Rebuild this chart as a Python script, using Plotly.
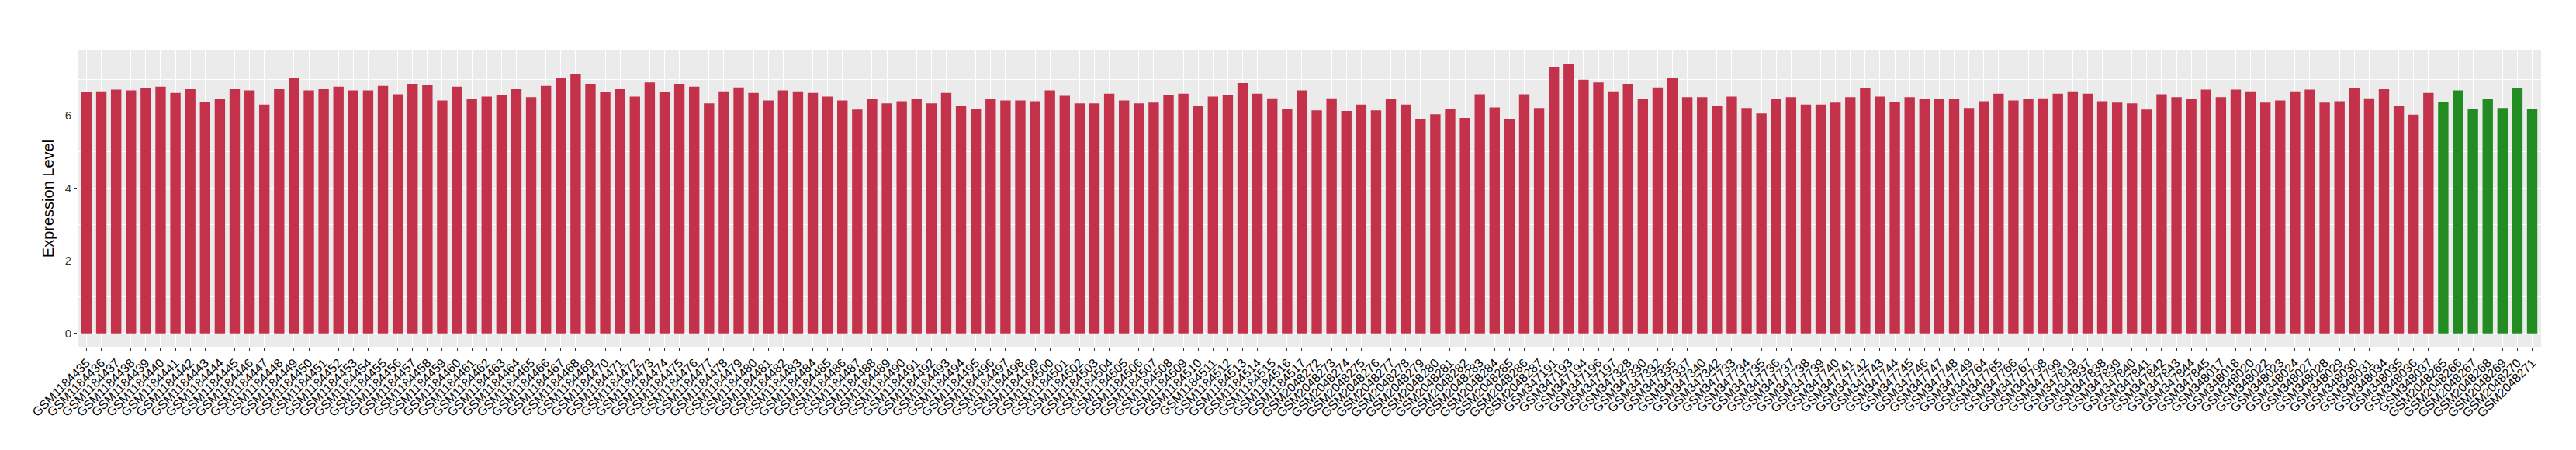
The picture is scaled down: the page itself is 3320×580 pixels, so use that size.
import plotly.graph_objects as go

samples = (
    [f"GSM{n}" for n in range(1184435, 1184518)]
    + [f"GSM{n}" for n in range(2048272, 2048288)]
    + ["GSM347191", "GSM347193", "GSM347194", "GSM347196", "GSM347197",
       "GSM347328", "GSM347330", "GSM347332", "GSM347335", "GSM347337",
       "GSM347340", "GSM347342"]
    + [f"GSM{n}" for n in range(347733, 347750)]
    + ["GSM347764", "GSM347765", "GSM347766", "GSM347767", "GSM347798",
       "GSM347799", "GSM347819"]
    + [f"GSM{n}" for n in range(347837, 347846)]
    + ["GSM348017", "GSM348018", "GSM348020", "GSM348022", "GSM348023",
       "GSM348024", "GSM348027", "GSM348028", "GSM348029", "GSM348030",
       "GSM348031", "GSM348034", "GSM348035", "GSM348036", "GSM348037"]
    + [f"GSM{n}" for n in range(2048265, 2048272)]
)

values = [
    # GSM1184435 - GSM1184448
    6.65, 6.67, 6.72, 6.70, 6.75, 6.80, 6.63, 6.73, 6.38, 6.46, 6.73, 6.70, 6.31, 6.73,
    # GSM1184449 - GSM1184462
    7.05, 6.70, 6.73, 6.80, 6.70, 6.70, 6.82, 6.59, 6.88, 6.84, 6.42, 6.80, 6.45, 6.53,
    # GSM1184463 - GSM1184475
    6.57, 6.73, 6.51, 6.82, 7.03, 7.14, 6.88, 6.65, 6.73, 6.53, 6.92, 6.65, 6.88,
    # GSM1184476 - GSM1184489
    6.80, 6.34, 6.67, 6.78, 6.63, 6.42, 6.70, 6.67, 6.63, 6.53, 6.42, 6.17, 6.46, 6.34,
    # GSM1184490 - GSM1184503
    6.40, 6.46, 6.34, 6.63, 6.26, 6.19, 6.45, 6.42, 6.42, 6.40, 6.70, 6.55, 6.34, 6.34,
    # GSM1184504 - GSM1184517
    6.61, 6.42, 6.34, 6.36, 6.57, 6.61, 6.28, 6.53, 6.57, 6.90, 6.61, 6.48, 6.19, 6.70,
    # GSM2048272 - GSM2048287
    6.15, 6.48, 6.13, 6.31, 6.15, 6.45, 6.31, 5.90, 6.04, 6.19, 5.94, 6.59, 6.23, 5.92, 6.59, 6.21,
    # GSM347191 - GSM347342
    7.34, 7.43, 6.99, 6.92, 6.67, 6.88, 6.45, 6.78, 7.03, 6.51, 6.51, 6.26,
    # GSM347733 - GSM347749
    6.53, 6.21, 6.06, 6.46, 6.51, 6.31, 6.31, 6.36, 6.51, 6.75, 6.53, 6.38, 6.51, 6.46, 6.45, 6.46, 6.21,
    # GSM347764 - GSM347819
    6.40, 6.61, 6.42, 6.46, 6.48, 6.61, 6.67,
    # GSM347837 - GSM347845
    6.61, 6.40, 6.36, 6.34, 6.17, 6.59, 6.51, 6.45, 6.72,
    # GSM348017 - GSM348037
    6.51, 6.72, 6.67, 6.36, 6.42, 6.67, 6.72, 6.36, 6.40, 6.75, 6.48, 6.73, 6.28, 6.03, 6.63,
    # GSM2048265 - GSM2048271
    6.38, 6.70, 6.19, 6.45, 6.21, 6.75, 6.19,
]

groups = ["A"] * (len(samples) - 7) + ["B"] * 7
group_colors = {"A": "#C3324A", "B": "#228B22"}

y_ticks = [0, 2, 4, 6]

fig = go.Figure(
    go.Bar(
        x=samples,
        y=values,
        marker=dict(color=[group_colors[g] for g in groups], line=dict(width=0)),
        showlegend=False,
    )
)

fig.update_layout(
    width=3320,
    height=580,
    margin=dict(l=92, r=53, t=57, b=141),
    paper_bgcolor="white",
    plot_bgcolor="#EBEBEB",
    bargap=0.3,
    font=dict(family="Liberation Sans, Arial, sans-serif", color="black"),
)

fig.update_xaxes(
    type="category",
    categoryorder="array",
    categoryarray=samples,
    range=[-0.6, len(samples) - 0.4],
    tickangle=-45,
    tickfont=dict(size=16, color="black"),
    showgrid=True,
    gridcolor="white",
    gridwidth=1.1,
    ticks="outside",
    ticklen=4,
    tickcolor="#333333",
    zeroline=False,
    showline=False,
)

fig.update_yaxes(
    range=[-0.37, 7.8],
    tickvals=y_ticks,
    ticktext=[str(v) for v in y_ticks],
    tickfont=dict(size=15, color="#333333"),
    showgrid=True,
    gridcolor="white",
    gridwidth=1.1,
    minor=dict(showgrid=True, gridcolor="white", gridwidth=0.5, tickvals=[1, 3, 5, 7]),
    ticks="outside",
    ticklen=4,
    tickcolor="#333333",
    zeroline=False,
    showline=False,
    title=dict(text="Expression Level", font=dict(size=20, color="black"), standoff=8),
)

fig.write_html("out.html")
